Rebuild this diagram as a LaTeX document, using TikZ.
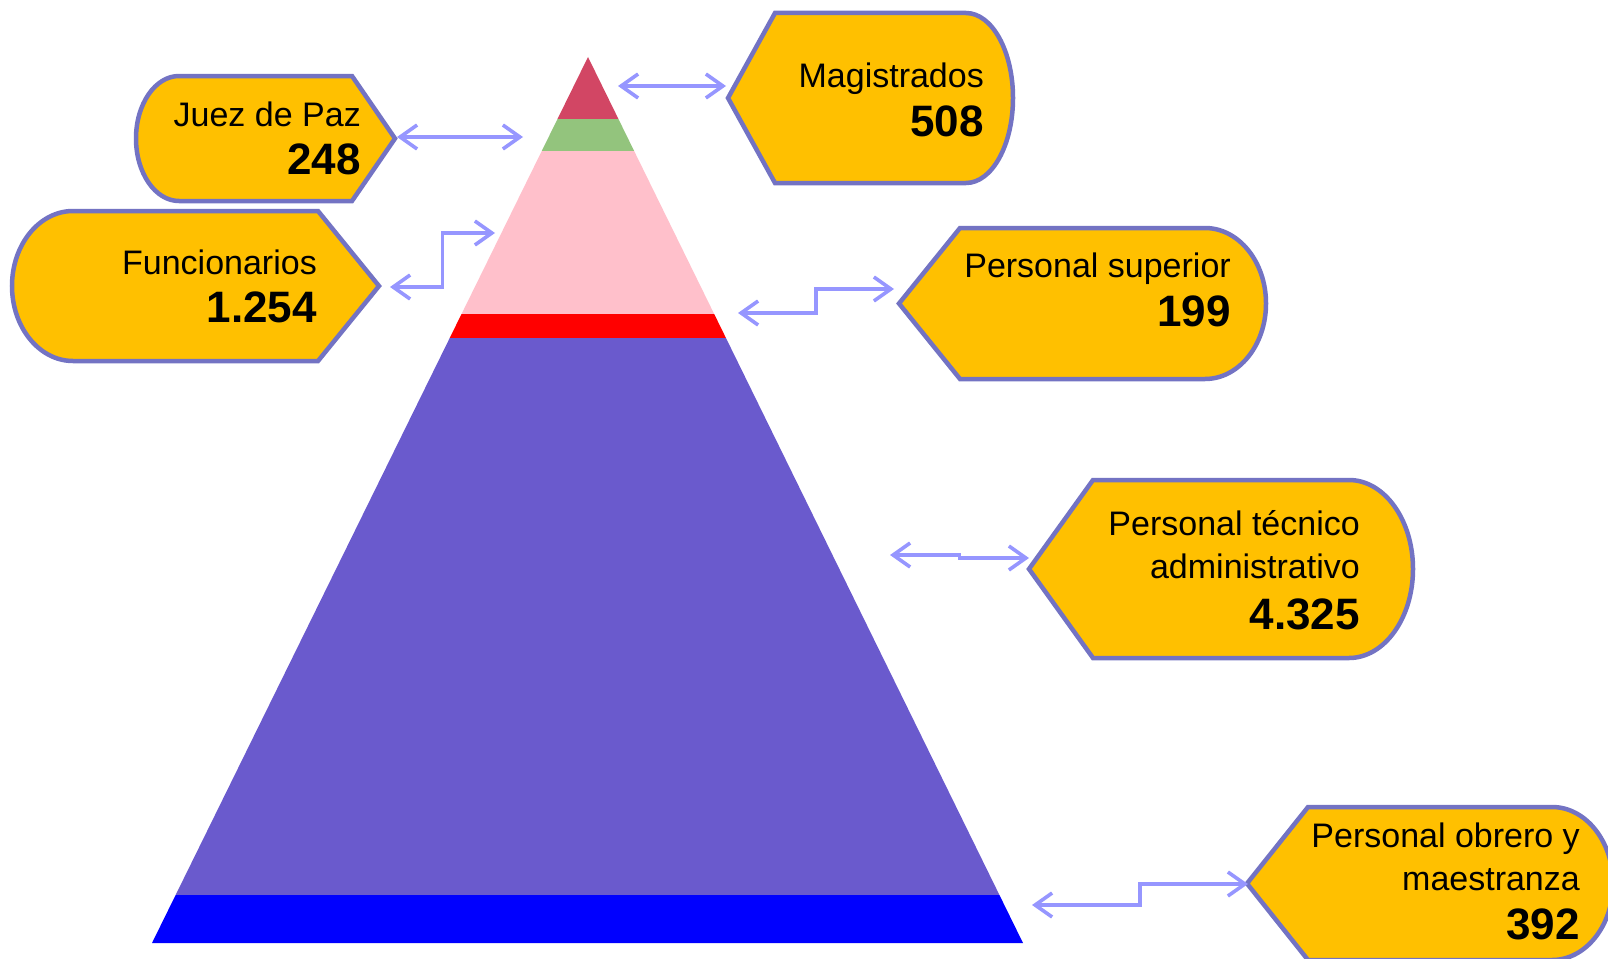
\documentclass[tikz,border=0pt]{standalone}
\usepackage{fontspec}
\setmainfont{Liberation Sans}
\usetikzlibrary{arrows.meta,calc}

\definecolor{rougesommet}{RGB}{210,70,100}
\definecolor{vertclair}{RGB}{147,196,125}
\definecolor{rose}{RGB}{255,192,203}
\definecolor{rougevif}{RGB}{255,0,0}
\definecolor{violet}{RGB}{106,90,205}
\definecolor{bleuvif}{RGB}{0,0,255}
\definecolor{orjaune}{RGB}{255,192,0}
\definecolor{contour}{RGB}{115,115,195}
\definecolor{bleufleche}{RGB}{150,150,255}

\tikzset{
  bulle/.style={fill=orjaune, draw=contour, line width=4.5pt, line join=miter},
  texte/.style={align=right, inner sep=0pt, anchor=south east, font=\fontsize{34}{43}\selectfont},
  fleche/.style={draw=bleufleche, line width=3.6pt,
    {Straight Barb[length=17pt,width=24pt]}-{Straight Barb[length=17pt,width=24pt]}}
}

\newcommand{\chiffre}{\bfseries\fontsize{44}{50}\selectfont}

% bulle : pointe a gauche, bout arrondi a droite
\newcommand{\bulleD}[5]{%
  \pgfmathsetmacro{\ry}{(#4-#3)/2}
  \filldraw[bulle] (#1,{(#3+#4)/2}) -- ({#1+#5},#3) -- ({#2-#5},#3)
    arc[start angle=90, end angle=-90, x radius=#5pt, y radius=\ry pt]
    -- ({#1+#5},#4) -- cycle;}

% bulle : pointe a droite, bout arrondi a gauche
\newcommand{\bulleG}[5]{%
  \pgfmathsetmacro{\ry}{(#4-#3)/2}
  \filldraw[bulle] (#2,{(#3+#4)/2}) -- ({#2-#5},#4) -- ({#1+#5},#4)
    arc[start angle=-90, end angle=-270, x radius=#5pt, y radius=\ry pt]
    -- ({#2-#5},#3) -- cycle;}

\begin{document}
\begin{tikzpicture}[x=1pt, y=-1pt]

    \useasboundingbox (0,0) rectangle (1608,958);
    \clip (0,0) rectangle (1608,958);

    % La pyramide
    \coordinate (sommet) at (588,57);
    \coordinate (baseG) at (152,943);
    \coordinate (baseD) at (1023,943);
    \begin{scope}
        \clip (sommet) -- (baseG) -- (baseD) -- cycle;
        \fill[rougesommet] (100,40) rectangle (1100,119);
        \fill[vertclair] (100,119) rectangle (1100,151);
        \fill[rose] (100,151) rectangle (1100,314);
        \fill[rougevif] (100,314) rectangle (1100,338);
        \fill[violet] (100,338) rectangle (1100,895);
        \fill[bleuvif] (100,895) rectangle (1100,960);
    \end{scope}

    % Les bulles a gauche
    \bulleG{136}{395}{76}{201}{43}
    \bulleG{12}{379}{211}{361}{61}

    % Les bulles a droite
    \bulleD{728}{1013}{13}{183}{47}
    \bulleD{899}{1266}{228}{379}{61}
    \bulleD{1029}{1413}{480}{658}{64}
    \bulleD{1247}{1613}{807}{960}{61}

    % Les textes
    \node[texte] (juez) at (361,175) {Juez de Paz\\[5pt] {\chiffre 248}};
    \node[texte] (fun) at (317,323) {Funcionarios\\[5pt] {\chiffre 1.254}};
    \node[texte] (mag) at (984,137) {Magistrados\\[6pt] {\chiffre 508}};
    \node[texte] (sup) at (1231,327) {Personal superior\\[6pt] {\chiffre 199}};
    \node[texte] (tec) at (1360,630) {Personal técnico\\ administrativo\\[8pt] {\chiffre 4.325}};
    \node[texte] (obr) at (1580,940) {Personal obrero y\\ maestranza\\[6pt] {\chiffre 392}};

    % Les extremites des fleches
    \coordinate (magA) at (618,86);   \coordinate (magB) at (726,86);
    \coordinate (juezA) at (523,137); \coordinate (juezB) at (397,137);
    \coordinate (funA) at (495,233);  \coordinate (funB) at (390,287);
    \coordinate (supA) at (738,313);  \coordinate (supB) at (894,289);
    \coordinate (tecA) at (890,555);  \coordinate (tecB) at (1029,558);
    \coordinate (obrA) at (1032,905); \coordinate (obrB) at (1248,884);

    % Les fleches entre la pyramide et les bulles
    \draw[fleche] (magA) -- (magB);
    \draw[fleche] (juezB) -- (juezA);
    \draw[fleche] (funB) -| ($(funB)!.5!(funA)$) |- (funA);
    \draw[fleche] (supA) -| ($(supA)!.5!(supB)$) |- (supB);
    \draw[fleche] (tecA) -| ($(tecA)!.5!(tecB)$) |- (tecB);
    \draw[fleche] (obrA) -| ($(obrA)!.5!(obrB)$) |- (obrB);

\end{tikzpicture}
\end{document}
